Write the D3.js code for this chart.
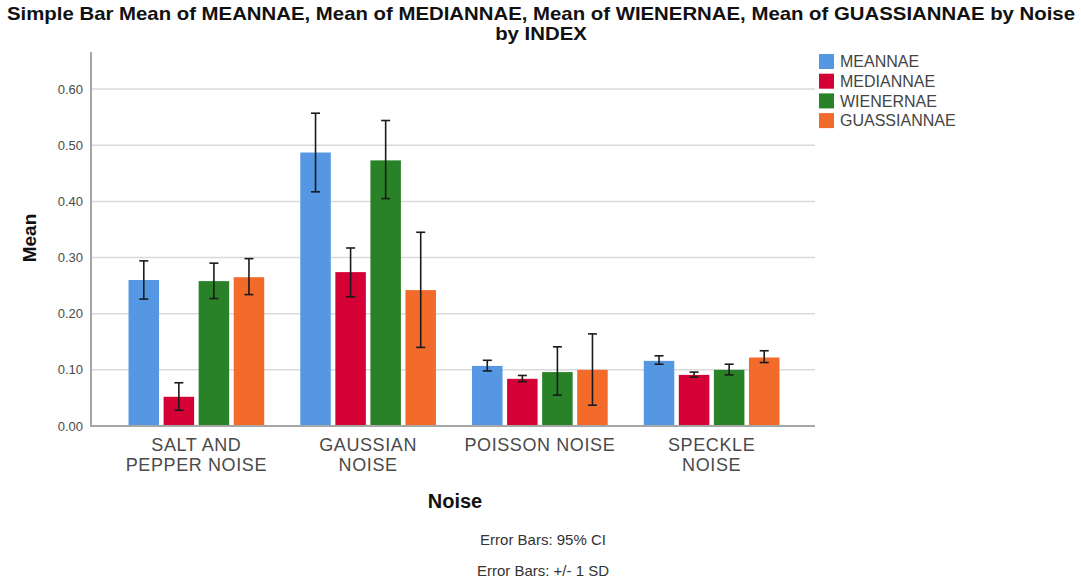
<!DOCTYPE html>
<html>
<head>
<meta charset="utf-8">
<script src="https://cdn.jsdelivr.net/npm/d3@7.9.0/dist/d3.min.js"></script>
<style>
  body { margin: 0; background: #fff; }
  svg { display: block; font-family: "Liberation Sans", Arial, sans-serif; }
</style>
</head>
<body>
<svg id="chart" width="1081" height="579"></svg>
<script>
const categories = ['SALT AND PEPPER NOISE', 'GAUSSIAN NOISE', 'POISSON NOISE', 'SPECKLE NOISE'];
const categoryLines = [['SALT AND', 'PEPPER NOISE'], ['GAUSSIAN', 'NOISE'], ['POISSON NOISE'], ['SPECKLE', 'NOISE']];
const series = ['MEANNAE', 'MEDIANNAE', 'WIENERNAE', 'GUASSIANNAE'];
const colors = ['#5597e3', '#d40036', '#2a8228', '#f36b2b'];

const meanVals   = [0.260, 0.487, 0.107, 0.116];
const medianVals = [0.052, 0.274, 0.084, 0.091];
const wienerVals = [0.258, 0.473, 0.096, 0.100];
const gaussVals  = [0.265, 0.242, 0.100, 0.122];

const meanLo   = [0.226, 0.417, 0.098, 0.110];
const meanHi   = [0.294, 0.557, 0.117, 0.125];
const medianLo = [0.028, 0.230, 0.079, 0.087];
const medianHi = [0.077, 0.317, 0.090, 0.096];
const wienerLo = [0.227, 0.405, 0.055, 0.091];
const wienerHi = [0.290, 0.544, 0.141, 0.110];
const gaussLo  = [0.234, 0.140, 0.037, 0.113];
const gaussHi  = [0.298, 0.345, 0.164, 0.134];

const yTicks = [0, 0.1, 0.2, 0.3, 0.4, 0.5, 0.6];

const values = [meanVals, medianVals, wienerVals, gaussVals];
const lows = [meanLo, medianLo, wienerLo, gaussLo];
const highs = [meanHi, medianHi, wienerHi, gaussHi];

const rows = [];
categories.forEach((c, ci) => {
  series.forEach((s, si) => {
    rows.push({ cat: c, ser: s, si, v: values[si][ci], lo: lows[si][ci], hi: highs[si][ci] });
  });
});

const svg = d3.select('#chart');
const plotLeft = 91, plotRight = 815, plotBottom = 426, plotTop = 52;

const y = d3.scaleLinear().domain([0, 0.666]).range([plotBottom, plotTop]);
const x0 = d3.scaleBand().domain(categories).range([110.5, 797.5]).paddingInner(0.21).paddingOuter(0.105);
const x1 = d3.scaleBand().domain(series).range([0, x0.bandwidth()]).paddingInner(0.13);

// gridlines
svg.append('g')
  .selectAll('line')
  .data(yTicks.filter(t => t > 0))
  .join('line')
  .attr('x1', plotLeft).attr('x2', plotRight)
  .attr('y1', d => y(d)).attr('y2', d => y(d))
  .attr('stroke', '#d9d9d9').attr('stroke-width', 1.5);

// y tick labels
svg.append('g')
  .selectAll('text')
  .data(yTicks)
  .join('text')
  .attr('x', 83).attr('y', d => y(d))
  .attr('dy', '0.35em')
  .attr('text-anchor', 'end')
  .attr('font-size', 13)
  .attr('fill', '#4a4a4a')
  .text(d3.format('.2f'));

// bars
svg.append('g')
  .selectAll('rect')
  .data(rows)
  .join('rect')
  .attr('x', d => x0(d.cat) + x1(d.ser))
  .attr('y', d => y(d.v))
  .attr('width', x1.bandwidth())
  .attr('height', d => y(0) - y(d.v))
  .attr('fill', d => colors[d.si]);

// error bars
const eb = svg.append('g').attr('stroke', '#1a1a1a').attr('stroke-width', 1.6);
rows.forEach(d => {
  const cx = x0(d.cat) + x1(d.ser) + x1.bandwidth() / 2;
  eb.append('line').attr('x1', cx).attr('x2', cx).attr('y1', y(d.lo)).attr('y2', y(d.hi));
  eb.append('line').attr('x1', cx - 4.5).attr('x2', cx + 4.5).attr('y1', y(d.lo)).attr('y2', y(d.lo));
  eb.append('line').attr('x1', cx - 4.5).attr('x2', cx + 4.5).attr('y1', y(d.hi)).attr('y2', y(d.hi));
});

// axes lines
svg.append('line').attr('x1', plotLeft).attr('x2', plotLeft).attr('y1', plotTop).attr('y2', plotBottom + 1)
  .attr('stroke', '#a6a6a6').attr('stroke-width', 2);
svg.append('line').attr('x1', plotLeft - 1).attr('x2', plotRight).attr('y1', plotBottom).attr('y2', plotBottom)
  .attr('stroke', '#a6a6a6').attr('stroke-width', 2);

// x tick labels
const xl = svg.append('g')
  .selectAll('text')
  .data(categories)
  .join('text')
  .attr('x', d => x0(d) + x0.bandwidth() / 2)
  .attr('y', 451)
  .attr('text-anchor', 'middle')
  .attr('font-size', 18)
  .attr('letter-spacing', 0.6)
  .attr('fill', '#4a4a4a');
xl.selectAll('tspan')
  .data((d, i) => categoryLines[i])
  .join('tspan')
  .attr('x', function () { return d3.select(this.parentNode).attr('x'); })
  .attr('dy', (d, i) => i === 0 ? 0 : 20)
  .text(d => d);

// axis titles
svg.append('text')
  .attr('transform', 'translate(36,238) rotate(-90)')
  .attr('text-anchor', 'middle')
  .attr('font-size', 19).attr('font-weight', 'bold').attr('fill', '#111')
  .text('Mean');
svg.append('text')
  .attr('x', 455).attr('y', 508)
  .attr('text-anchor', 'middle')
  .attr('font-size', 20).attr('font-weight', 'bold').attr('fill', '#111')
  .text('Noise');

// footnotes
svg.append('text').attr('x', 543).attr('y', 545).attr('text-anchor', 'middle')
  .attr('font-size', 15).attr('fill', '#333').text('Error Bars: 95% CI');
svg.append('text').attr('x', 543).attr('y', 576).attr('text-anchor', 'middle')
  .attr('font-size', 15).attr('fill', '#333').text('Error Bars: +/- 1 SD');

// title
const t1 = svg.append('text').attr('x', 541).attr('y', 20).attr('text-anchor', 'middle')
  .attr('font-size', 19).attr('font-weight', 'bold').attr('fill', '#111')
  .text('Simple Bar Mean of MEANNAE, Mean of MEDIANNAE, Mean of WIENERNAE, Mean of GUASSIANNAE by Noise');
const t2 = svg.append('text').attr('x', 541).attr('y', 40).attr('text-anchor', 'middle')
  .attr('font-size', 19).attr('font-weight', 'bold').attr('fill', '#111')
  .text('by INDEX');
const ratio = 1068 / t1.node().getComputedTextLength();
t1.attr('textLength', 1068).attr('lengthAdjust', 'spacingAndGlyphs');
t2.attr('textLength', t2.node().getComputedTextLength() * ratio).attr('lengthAdjust', 'spacingAndGlyphs');

// legend
const lg = svg.append('g').attr('transform', 'translate(819,54)');
const item = lg.selectAll('g').data(series).join('g')
  .attr('transform', (d, i) => `translate(0,${i * 19.7})`);
item.append('rect').attr('width', 15).attr('height', 15).attr('fill', (d, i) => colors[i]);
item.append('text').attr('x', 21).attr('y', 7.5).attr('dy', '0.36em')
  .attr('font-size', 16).attr('fill', '#444').text(d => d);
</script>
</body>
</html>
